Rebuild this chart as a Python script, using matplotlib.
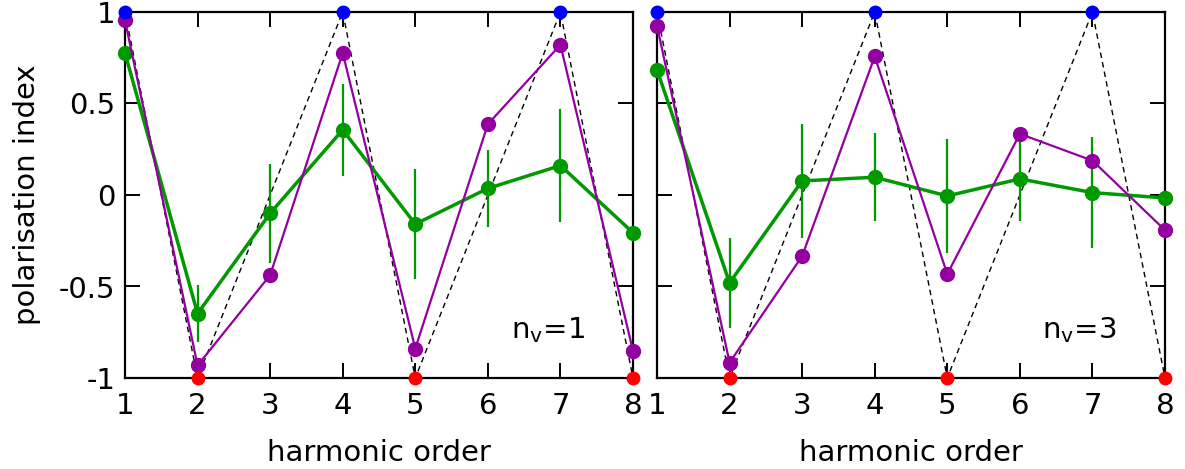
import matplotlib
matplotlib.use("Agg")
import matplotlib.pyplot as plt
import numpy as np

plt.rcParams['font.family'] = ['DejaVu Sans']

orders = [1, 2, 3, 4, 5, 6, 7, 8]
# ideal pattern (dashed) : +1, -1, 0 repeating
ideal = [1, -1, 0, 1, -1, 0, 1, -1]
blue_x = [1, 4, 7]
red_x = [2, 5, 8]

# n_v = 1
purple_nv1 = [0.954, -0.931, -0.438, 0.776, -0.839, 0.387, 0.821, -0.852]
green_nv1 = [0.776, -0.648, -0.100, 0.356, -0.159, 0.036, 0.161, -0.206]
green_err_nv1 = [0.0, 0.155, 0.27, 0.25, 0.30, 0.21, 0.31, 0.0]

# n_v = 3
purple_nv3 = [0.925, -0.916, -0.334, 0.757, -0.432, 0.334, 0.188, -0.192]
green_nv3 = [0.684, -0.480, 0.077, 0.097, -0.005, 0.088, 0.013, -0.016]
green_err_nv3 = [0.0, 0.245, 0.31, 0.24, 0.31, 0.23, 0.305, 0.0]

labels = ["n$_\\mathregular{v}$=1", "n$_\\mathregular{v}$=3"]

fig = plt.figure(figsize=(11.85, 4.69), dpi=100)
ax1 = fig.add_axes([125 / 1185, 91 / 469, 508 / 1185, 366 / 469])
ax2 = fig.add_axes([657 / 1185, 91 / 469, 508 / 1185, 366 / 469])

green = '#009900'
purple = '#9400a0'

panels = [(ax1, purple_nv1, green_nv1, green_err_nv1, labels[0]),
          (ax2, purple_nv3, green_nv3, green_err_nv3, labels[1])]

for ax, pv, gv, ge, lab in panels:
    ax.plot(orders, ideal, '--', color='black', lw=1.0, dashes=(4, 3),
            clip_on=False, zorder=2)
    ax.plot(blue_x, [ideal[i - 1] for i in blue_x], 'o', color='#0000ff',
            ms=9, clip_on=False, zorder=5)
    ax.plot(red_x, [ideal[i - 1] for i in red_x], 'o', color='#ff0000',
            ms=9, clip_on=False, zorder=5)
    ax.plot(orders, pv, 'o-', color=purple, lw=1.6, ms=10,
            clip_on=False, zorder=4)
    ax.errorbar(orders, gv, yerr=ge, fmt='o-', color=green, lw=2.5, ms=10,
                elinewidth=1.6, capsize=0, clip_on=False, zorder=3)
    ax.set_xlim(1, 8)
    ax.set_ylim(-1, 1)
    ax.set_xticks(orders)
    ax.set_yticks([-1, -0.5, 0, 0.5, 1])
    ax.set_yticklabels(['-1', '-0.5', '0', '0.5', '1'])
    ax.tick_params(direction='in', length=11, width=1.4, top=True, right=True,
                   labelsize=21)
    ax.tick_params(axis='x', pad=10)
    ax.tick_params(axis='y', pad=7)
    for s in ax.spines.values():
        s.set_linewidth(1.6)
        s.set_zorder(1)
    ax.set_xlabel('harmonic order', fontsize=21, labelpad=14)
    ax.text(0.905, 0.13, lab, transform=ax.transAxes, fontsize=21,
            ha='right', va='center')

ax1.set_ylabel('polarisation index', fontsize=21, labelpad=13)
ax2.set_yticklabels([])

fig.savefig('out.png', dpi=100)
